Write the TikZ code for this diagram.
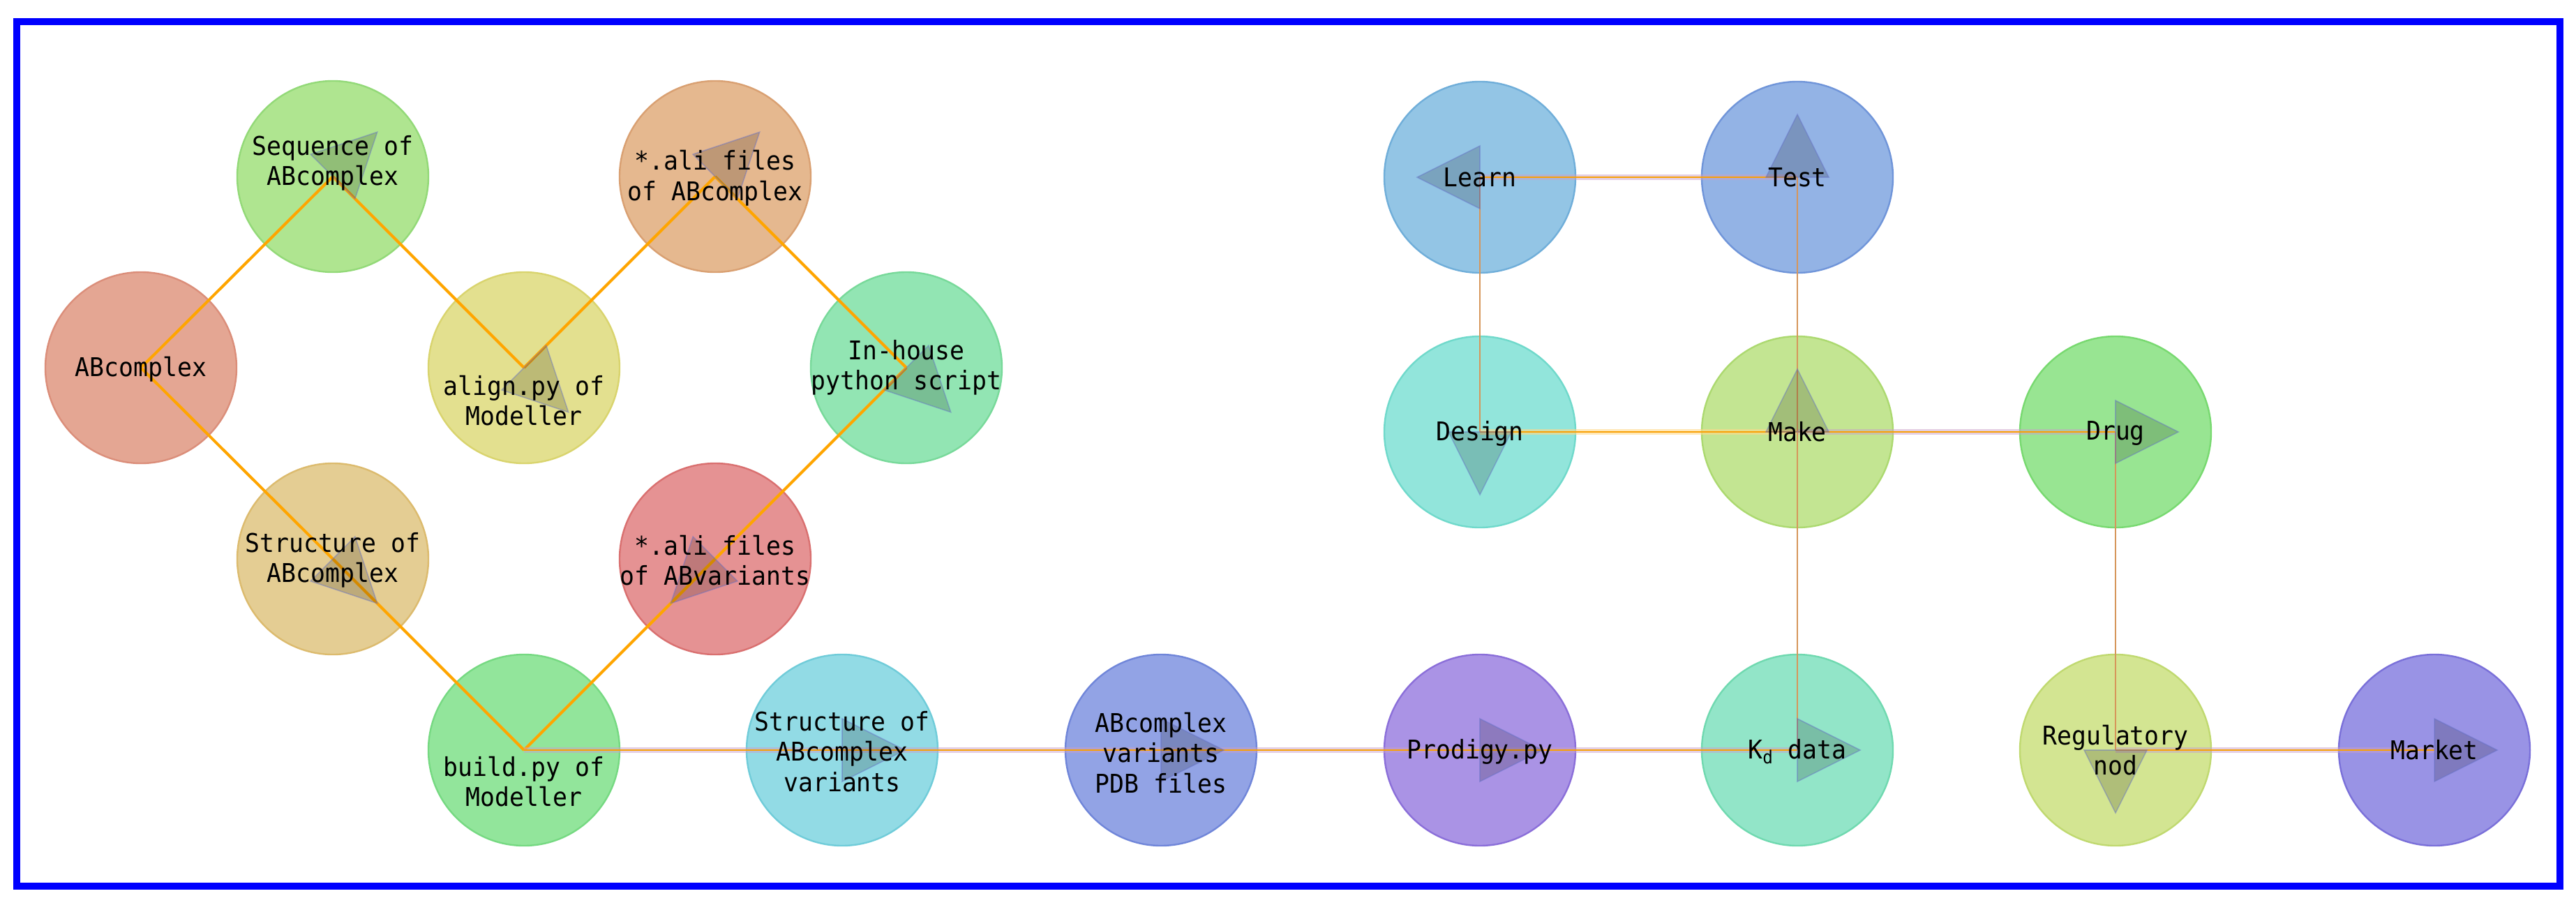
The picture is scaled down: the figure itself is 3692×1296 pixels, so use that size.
\documentclass[tikz,border=0pt]{standalone}
\usepackage{fontspec}
\newfontfamily\labfont[FakeStretch=0.94]{DejaVu Sans Mono}
\usetikzlibrary{calc}
\definecolor{fABC}{HTML}{E4A693}\definecolor{dABC}{HTML}{DB8E7A}
\definecolor{fSEQ}{HTML}{AFE590}\definecolor{dSEQ}{HTML}{93D978}
\definecolor{fALC}{HTML}{E5B88F}\definecolor{dALC}{HTML}{D9A072}
\definecolor{fALN}{HTML}{E3E08F}\definecolor{dALN}{HTML}{D9D46E}
\definecolor{fINH}{HTML}{92E5B3}\definecolor{dINH}{HTML}{78D99A}
\definecolor{fSTR}{HTML}{E4CD93}\definecolor{dSTR}{HTML}{DCBB6E}
\definecolor{fALV}{HTML}{E59293}\definecolor{dALV}{HTML}{D97070}
\definecolor{fBLD}{HTML}{92E59B}\definecolor{dBLD}{HTML}{76D982}
\definecolor{fSV}{HTML}{92DBE5}\definecolor{dSV}{HTML}{70CCD9}
\definecolor{fPDB}{HTML}{92A3E5}\definecolor{dPDB}{HTML}{7086D9}
\definecolor{fPRD}{HTML}{AA93E5}\definecolor{dPRD}{HTML}{8B6FD9}
\definecolor{fKD}{HTML}{92E5C8}\definecolor{dKD}{HTML}{70D9B0}
\definecolor{fREG}{HTML}{D3E592}\definecolor{dREG}{HTML}{C0D970}
\definecolor{fMKT}{HTML}{9993E5}\definecolor{dMKT}{HTML}{7A70D9}
\definecolor{fLRN}{HTML}{93C5E5}\definecolor{dLRN}{HTML}{70AED9}
\definecolor{fTST}{HTML}{93B3E5}\definecolor{dTST}{HTML}{7095D9}
\definecolor{fDSG}{HTML}{92E5DB}\definecolor{dDSG}{HTML}{70D9CB}
\definecolor{fMAK}{HTML}{C3E592}\definecolor{dMAK}{HTML}{ACD970}
\definecolor{fDRG}{HTML}{98E592}\definecolor{dDRG}{HTML}{78D970}
\definecolor{eOrange}{HTML}{FFA500}
\definecolor{eHalo}{HTML}{C9A0C8}
\definecolor{eHaloY}{HTML}{FFD88A}
\definecolor{eVert}{HTML}{D6965A}
\definecolor{mEdge}{HTML}{6470C8}
\newcommand\amark[3]{\filldraw[amark] ($(#1.center)+({90*(#2)},{90*(#3)})$) -- ($(#1.center)+({-45*(#3)},{45*(#2)})$) -- ($(#1.center)+({45*(#3)},{-45*(#2)})$) -- cycle;}
\begin{document}
\begin{tikzpicture}[x=0.5pt,y=-0.5pt,
  bub/.style={circle, minimum size=137pt, inner sep=0pt, line width=1.2pt},
  lab/.style={align=center, font=\labfont\fontsize{18.5}{21.75}\selectfont, text=black, inner sep=0pt},
  edgeL/.style={draw=eOrange, line width=2pt},
  halo/.style={draw=eHalo, line width=4pt, draw opacity=0.5},
  haloY/.style={draw=eHaloY, line width=4pt, draw opacity=0.6},
  edgeH/.style={draw=eOrange!90!brown, line width=1.3pt},
  edgeV/.style={draw=eVert, line width=1.2pt},
  amark/.style={fill=black, fill opacity=0.17, draw=mEdge, draw opacity=0.45, line width=0.8pt, line join=miter}
]
\useasboundingbox (0,0) rectangle (3692,1296);
\draw[blue, line width=5pt] (24,31) rectangle (3669,1270);
% circles
\node[bub, fill=fABC, draw=dABC] (abc) at (202,527) {};
\node[bub, fill=fSEQ, draw=dSEQ] (seq) at (477,253) {};
\node[bub, fill=fSTR, draw=dSTR] (strc) at (477,801) {};
\node[bub, fill=fALN, draw=dALN] (aln) at (751,527) {};
\node[bub, fill=fBLD, draw=dBLD] (bld) at (751,1075) {};
\node[bub, fill=fALC, draw=dALC] (alic) at (1025,253) {};
\node[bub, fill=fALV, draw=dALV] (aliv) at (1025,801) {};
\node[bub, fill=fINH, draw=dINH] (inh) at (1299,527) {};
\node[bub, fill=fSV, draw=dSV] (sv) at (1207,1075) {};
\node[bub, fill=fPDB, draw=dPDB] (pdb) at (1664,1075) {};
\node[bub, fill=fPRD, draw=dPRD] (prd) at (2121,1075) {};
\node[bub, fill=fKD, draw=dKD] (kd) at (2576,1075) {};
\node[bub, fill=fREG, draw=dREG] (reg) at (3032,1075) {};
\node[bub, fill=fMKT, draw=dMKT] (mkt) at (3489,1075) {};
\node[bub, fill=fLRN, draw=dLRN] (lrn) at (2121,254) {};
\node[bub, fill=fTST, draw=dTST] (tst) at (2576,254) {};
\node[bub, fill=fDSG, draw=dDSG] (dsg) at (2121,619) {};
\node[bub, fill=fMAK, draw=dMAK] (mak) at (2576,619) {};
\node[bub, fill=fDRG, draw=dDRG] (drg) at (3032,619) {};
% edges left
\draw[edgeL] (abc.center) -- (seq.center);
\draw[edgeL] (seq.center) -- (aln.center);
\draw[edgeL] (aln.center) -- (alic.center);
\draw[edgeL] (alic.center) -- (inh.center);
\draw[edgeL] (inh.center) -- (aliv.center);
\draw[edgeL] (aliv.center) -- (bld.center);
\draw[edgeL] (abc.center) -- (strc.center);
\draw[edgeL] (strc.center) -- (bld.center);
% edges right
\draw[halo] (bld.center) -- (sv.center);
\draw[halo] (sv.center) -- (pdb.center);
\draw[halo] (pdb.center) -- (prd.center);
\draw[halo] (prd.center) -- (kd.center);
\draw[halo] (tst.center) -- (lrn.center);
\draw[haloY] (dsg.center) -- (mak.center);
\draw[halo] (mak.center) -- (drg.center);
\draw[halo] (reg.center) -- (mkt.center);
\draw[edgeH] (bld.center) -- (sv.center);
\draw[edgeH] (sv.center) -- (pdb.center);
\draw[edgeH] (pdb.center) -- (prd.center);
\draw[edgeH] (prd.center) -- (kd.center);
\draw[edgeH] (tst.center) -- (lrn.center);
\draw[edgeH] (dsg.center) -- (mak.center);
\draw[edgeH] (mak.center) -- (drg.center);
\draw[edgeH] (reg.center) -- (mkt.center);
\draw[edgeV] (kd.center) -- (mak.center);
\draw[edgeV] (mak.center) -- (tst.center);
\draw[edgeV] (lrn.center) -- (dsg.center);
\draw[edgeV] (drg.center) -- (reg.center);
% arrow markers
\amark{seq}{0.7071}{-0.7071}
\amark{aln}{0.7071}{0.7071}
\amark{alic}{0.7071}{-0.7071}
\amark{inh}{0.7071}{0.7071}
\amark{strc}{0.7071}{0.7071}
\amark{aliv}{-0.7071}{0.7071}
\amark{sv}{1}{0}
\amark{pdb}{1}{0}
\amark{prd}{1}{0}
\amark{kd}{1}{0}
\amark{reg}{0}{1}
\amark{mkt}{1}{0}
\amark{lrn}{-1}{0}
\amark{tst}{0}{-1}
\amark{dsg}{0}{1}
\amark{mak}{0}{-1}
\amark{drg}{1}{0}
% labels
\node[lab] (abc-t) at (202,529) {ABcomplex};
\node[lab] (seq-t) at (477,234) {Sequence of\\ABcomplex};
\node[lab] (strc-t) at (477,803) {Structure of\\ABcomplex};
\node[lab] (aln-t) at (751,574) {align.py of\\Modeller};
\node[lab] (bld-t) at (751,1120) {build.py of\\Modeller};
\node[lab] (alic-t) at (1025,255) {*.ali files\\of ABcomplex};
\node[lab] (aliv-t) at (1025,803) {*.ali files\\of ABvariants};
\node[lab] (inh-t) at (1299,527) {In-house\\python script};
\node[lab] (sv-t) at (1207,1077) {Structure of\\ABcomplex\\variants};
\node[lab] (pdb-t) at (1664,1079) {ABcomplex\\variants\\PDB files};
\node[lab] (prd-t) at (2121,1077) {Prodigy.py};
\node[lab] (kd-t) at (2576,1077) {K\textsubscript{d} data};
\node[lab] (reg-t) at (3032,1075) {Regulatory\\nod};
\node[lab] (mkt-t) at (3489,1075) {Market};
\node[lab] (lrn-t) at (2121,254) {Learn};
\node[lab] (tst-t) at (2576,254) {Test};
\node[lab] (dsg-t) at (2121,621) {Design};
\node[lab] (mak-t) at (2576,619) {Make};
\node[lab] (drg-t) at (3032,621) {Drug};
\end{tikzpicture}
\end{document}
